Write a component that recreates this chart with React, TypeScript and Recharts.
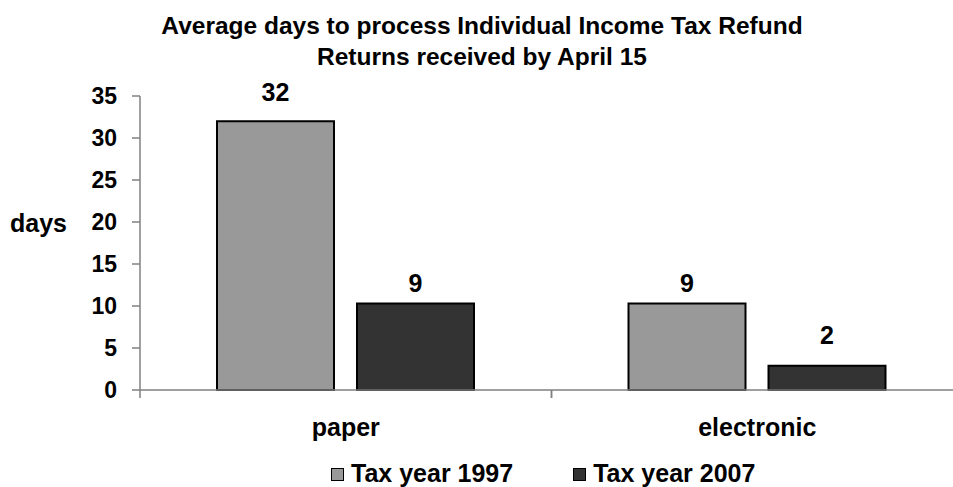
import { Bar, BarChart, LabelList, XAxis, YAxis } from 'recharts';

const CATEGORIES = ['paper', 'electronic'];
const YEAR_1997 = [32, 10.3];
const YEAR_2007 = [10.3, 2.9];
const LABELS_1997 = ['32', '9'];
const LABELS_2007 = ['9', '2'];
const Y_TICKS = [0, 5, 10, 15, 20, 25, 30, 35];
const SERIES_NAMES = ['Tax year 1997', 'Tax year 2007'];

const COLORS = {
  light: '#999999',
  dark: '#333333',
  axis: '#808080',
  text: '#000000',
};

const FONT = '"Liberation Sans", Arial, sans-serif';

// gap between bar top and its label, per series / category
const LABEL_GAP = [
  [20, 11],
  [11, 22],
];

const data = CATEGORIES.map((name, i) => ({
  name,
  y1997: YEAR_1997[i],
  y2007: YEAR_2007[i],
  l1997: LABELS_1997[i],
  l2007: LABELS_2007[i],
}));

const textStyle = { fontFamily: FONT, fontSize: 25, fontWeight: 700, fill: COLORS.text };
const yTickStyle = { ...textStyle, fontSize: 23 };

function CategoryTick(props: any) {
  const { x, y, payload } = props;
  const lineY = y - 28;
  const half = payload.offset ?? 0;
  return (
    <g>
      <line x1={x - half} x2={x - half} y1={lineY} y2={lineY + 8} stroke={COLORS.axis} strokeWidth={1.5} />
      <line x1={x + half} x2={x + half} y1={lineY} y2={lineY + 8} stroke={COLORS.axis} strokeWidth={1.5} />
      <text x={x} y={y} dy="0.71em" textAnchor="middle" style={textStyle}>
        {payload.value}
      </text>
    </g>
  );
}

function makeLabel(series: number) {
  return (props: any) => {
    const { x, y, width, value, index } = props;
    return (
      <text x={x + width / 2} y={y - LABEL_GAP[series][index]} textAnchor="middle" style={textStyle}>
        {value}
      </text>
    );
  };
}

export default function App() {
  return (
    <div
      style={{
        position: 'absolute',
        left: 0,
        top: 0,
        width: 953,
        height: 487,
        overflow: 'hidden',
        background: '#fff',
        fontFamily: FONT,
        fontWeight: 700,
      }}
    >
      <div
        style={{
          position: 'absolute',
          left: 0,
          width: 964,
          top: 10,
          textAlign: 'center',
          fontSize: 24.5,
          lineHeight: '31px',
        }}
      >
        Average days to process Individual Income Tax Refund
        <br />
        Returns received by April 15
      </div>
      <div style={{ position: 'absolute', left: 10, top: 211, fontSize: 25, lineHeight: '25px' }}>days</div>
      <BarChart
        width={1000}
        height={487}
        data={data}
        margin={{ top: 96, right: 37, bottom: 0, left: 0 }}
        barSize={117}
        barGap={23}
      >
        <XAxis
          dataKey="name"
          height={97}
          axisLine={{ stroke: COLORS.axis, strokeWidth: 1.5 }}
          tickLine={false}
          tickSize={8}
          tickMargin={20}
          tick={<CategoryTick />}
          interval={0}
        />
        <YAxis
          width={140}
          domain={[0, 35]}
          ticks={Y_TICKS}
          interval={0}
          axisLine={{ stroke: COLORS.axis, strokeWidth: 1.5 }}
          tickLine={{ stroke: COLORS.axis, strokeWidth: 1.5 }}
          tickSize={8}
          tickMargin={15}
          tick={yTickStyle}
        />
        <Bar dataKey="y1997" name={SERIES_NAMES[0]} fill={COLORS.light} stroke="#000" strokeWidth={2} isAnimationActive={false}>
          <LabelList dataKey="l1997" content={makeLabel(0)} />
        </Bar>
        <Bar dataKey="y2007" name={SERIES_NAMES[1]} fill={COLORS.dark} stroke="#000" strokeWidth={2} isAnimationActive={false}>
          <LabelList dataKey="l2007" content={makeLabel(1)} />
        </Bar>
      </BarChart>
      <div
        style={{
          position: 'absolute',
          left: 331,
          top: 460,
          display: 'flex',
          gap: 60,
          fontSize: 25,
          lineHeight: '26px',
        }}
      >
        {SERIES_NAMES.map((name, i) => (
          <div key={name} style={{ display: 'flex', alignItems: 'flex-start', gap: 7 }}>
            <span
              style={{
                display: 'inline-block',
                boxSizing: 'border-box',
                width: 13,
                height: 13,
                marginTop: 8,
                border: '1px solid #000',
                background: i === 0 ? COLORS.light : COLORS.dark,
              }}
            />
            {name}
          </div>
        ))}
      </div>
    </div>
  );
}
